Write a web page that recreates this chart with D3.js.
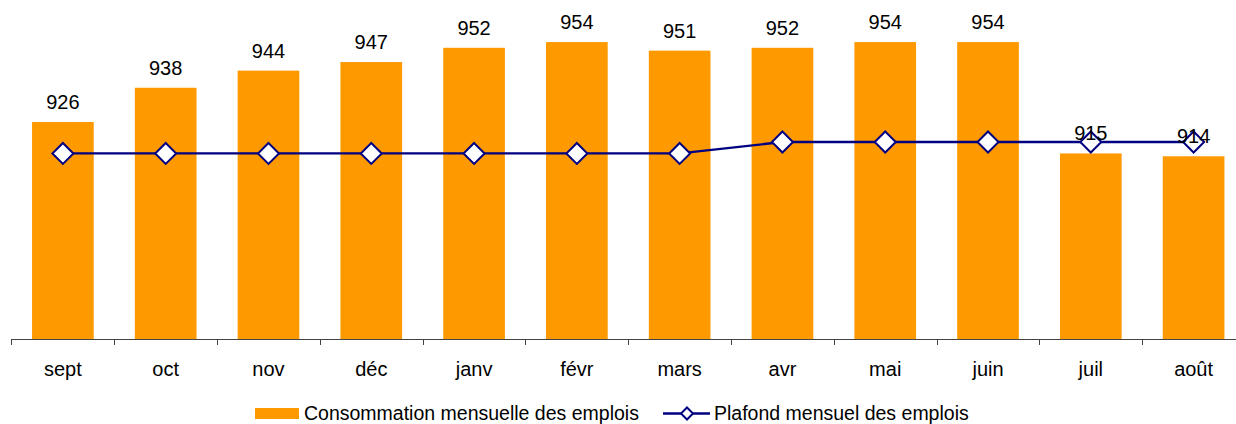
<!DOCTYPE html>
<html><head><meta charset="utf-8">
<script src="https://cdn.jsdelivr.net/npm/d3@7"></script>
<style>html,body{margin:0;padding:0;background:#fff;overflow:hidden}svg{display:block}</style>
</head><body>
<svg id="chart" width="1236" height="424"></svg>
<script>
const categories = ["sept","oct","nov","déc","janv","févr","mars","avr","mai","juin","juil","août"];
const consommation = [926, 938, 944, 947, 952, 954, 951, 952, 954, 954, 915, 914];
const plafond = [915, 915, 915, 915, 915, 915, 915, 919, 919, 919, 919, 919];
const seriesNames = ["Consommation mensuelle des emplois", "Plafond mensuel des emplois"];

const svg = d3.select("#chart");
const font = "'Liberation Sans', Arial, Helvetica, sans-serif";
const orange = "#FF9900", navy = "#000080";

const x = d3.scaleBand().domain(categories).range([11.5, 1245]).paddingInner(0.4).paddingOuter(0.2);
const y = d3.scaleLinear().domain([850, 950]).range([339, 53.5]);
const step = x.step();

// bars
svg.append("g").selectAll("rect").data(consommation).join("rect")
  .attr("x", (d,i) => x(categories[i]))
  .attr("width", x.bandwidth())
  .attr("y", d => y(d))
  .attr("height", d => y(850) - y(d))
  .attr("fill", orange);

// axis
const ax = svg.append("g");
ax.append("line").attr("x1", x.range()[0]).attr("x2", 1236).attr("y1", y(850)+0.5).attr("y2", y(850)+0.5)
  .attr("stroke", "#444").attr("stroke-width", 1);
const tickPos = categories.map(c => x(c) + x.bandwidth()/2 - step/2).concat([x(categories[categories.length-1]) + x.bandwidth()/2 + step/2]);
ax.selectAll("line.t").data(tickPos).join("line").attr("class","t")
  .attr("x1", d => Math.round(d)+0.5).attr("x2", d => Math.round(d)+0.5)
  .attr("y1", y(850)).attr("y2", y(850)+6).attr("stroke", "#444");
ax.selectAll("text").data(categories).join("text")
  .attr("x", d => x(d) + x.bandwidth()/2).attr("y", 376)
  .attr("text-anchor", "middle").attr("font-family", font).attr("font-size", 20).attr("fill", "#000")
  .text(d => d);

// line
const line = d3.line().x((d,i) => x(categories[i]) + x.bandwidth()/2).y(d => y(d));
svg.append("path").datum(plafond).attr("d", line).attr("fill", "none").attr("stroke", navy).attr("stroke-width", 2.3);
const diamond = s => `M0,${-s}L${s},0L0,${s}L${-s},0Z`;
svg.append("g").selectAll("path").data(plafond).join("path")
  .attr("transform", (d,i) => `translate(${x(categories[i]) + x.bandwidth()/2},${y(d)})`)
  .attr("d", diamond(10.5)).attr("fill", "#fff").attr("stroke", navy).attr("stroke-width", 2);

// bar labels
svg.append("g").selectAll("text").data(consommation).join("text")
  .attr("x", (d,i) => x(categories[i]) + x.bandwidth()/2).attr("y", d => y(d) - 13)
  .attr("text-anchor", "middle").attr("font-family", font).attr("font-size", 20).attr("fill", "#000")
  .text(d => d);

// legend
const lg = svg.append("g");
lg.append("rect").attr("x", 255).attr("y", 408).attr("width", 44).attr("height", 11).attr("fill", orange);
lg.append("text").attr("x", 304).attr("y", 420).attr("font-family", font).attr("font-size", 19.5).text(seriesNames[0]);
lg.append("line").attr("x1", 663).attr("x2", 710).attr("y1", 413.5).attr("y2", 413.5).attr("stroke", navy).attr("stroke-width", 2.3);
lg.append("path").attr("transform", "translate(687,413.5)").attr("d", diamond(6)).attr("fill", "#fff").attr("stroke", navy).attr("stroke-width", 2);
lg.append("text").attr("x", 714).attr("y", 420).attr("font-family", font).attr("font-size", 19.5).text(seriesNames[1]);
</script>
</body></html>
